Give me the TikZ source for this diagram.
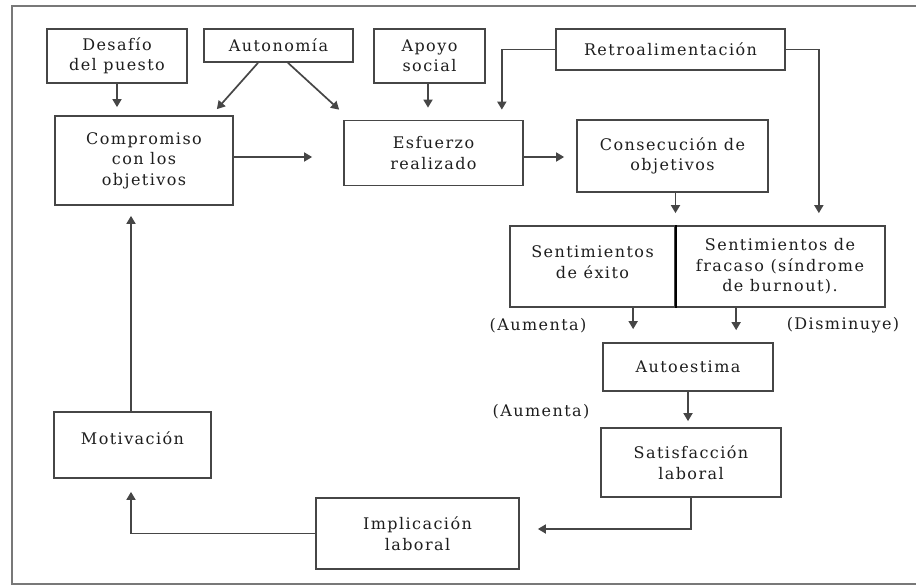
\documentclass[tikz,border=0pt]{standalone}
\usepackage{fontspec}
\setmainfont[LetterSpace=9]{DejaVu Serif}
\usetikzlibrary{arrows.meta,calc}
\definecolor{txt}{RGB}{30,30,30}
\definecolor{ln}{RGB}{70,70,70}
\definecolor{frm}{RGB}{120,120,120}
\tikzset{
  box/.style={draw=ln,line width=1.7pt,rectangle,align=center,inner sep=0pt,text=txt,
    font=\fontsize{16}{20.5}\selectfont},
  lbl/.style={inner sep=0pt,text=txt,font=\fontsize{16}{20.5}\selectfont},
  arr/.style={draw=ln,line width=1.7pt,-{Triangle[length=8pt,width=9pt]}},
}
\begin{document}
\begin{tikzpicture}[x=1pt,y=-1pt]
\useasboundingbox (0,0) rectangle (916,586);
\fill[white] (0,0) rectangle (916,586);
\draw[frm,line width=1.5pt] (916,6) -- (12,6) -- (12,584) -- (916,584);

\node[box,minimum width=140pt,minimum height=54pt] (desafio) at (117,56) {Desafío\\del puesto};
\node[box,minimum width=149pt,minimum height=33pt] (auto) at (278.5,45.5) {Autonomía};
\node[box,minimum width=111pt,minimum height=54pt] (apoyo) at (429.5,56) {Apoyo\\social};
\node[box,minimum width=229pt,minimum height=41pt] (retro) at (670.5,49.5) {Retroalimentación};
\node[box,minimum width=178pt,minimum height=89pt] (comp) at (144,160.5) {Compromiso\\con los\\objetivos};
\node[box,minimum width=179pt,minimum height=65pt] (esf) at (433.5,153) {Esfuerzo\\realizado};
\node[box,minimum width=191pt,minimum height=72pt] (cons) at (672.5,156) {Consecución de\\objetivos};
\node[box,minimum width=165pt,minimum height=81pt] (exito) at (592.5,266.5) {Sentimientos\\de éxito\\[-11.5pt]};
\node[box,minimum width=210pt,minimum height=81pt] (fracaso) at (780,266.5) {Sentimientos de\\fracaso (síndrome\\de burnout).};
\draw[black,line width=2.4pt] (exito.north east) -- (exito.south east);
\node[box,minimum width=170pt,minimum height=48pt] (autoe) at (688,367) {Autoestima};
\node[box,minimum width=180pt,minimum height=69pt] (satis) at (691,462.5) {Satisfacción\\laboral};
\node[box,minimum width=203pt,minimum height=71pt] (impl) at (417.5,533.5) {Implicación\\laboral};
\node[box,minimum width=157pt,minimum height=66pt] (motiv) at (132.5,445) {Motivación\\[-6.5pt]};

\node[lbl] (aum1) at (538,326) {(Aumenta)};
\node[lbl] (dism) at (843,325) {(Disminuye)};
\node[lbl] (aum2) at (541,412) {(Aumenta)};

\coordinate (rowy) at (0,157);

\draw[arr,shorten >=8pt] (desafio.south) -- (desafio.south |- comp.north);
\draw[arr] ([xshift=-20.5pt]auto.south) -- ($(comp.north east)+(-17,-6)$);
\draw[arr] ([xshift=9.5pt]auto.south) -- ($(esf.north west)+(-4,-10)$);
\draw[arr,shorten >=12pt] ([xshift=-1.5pt]apoyo.south) -- ([xshift=-1.5pt]apoyo.south |- esf.north);
\draw[arr] (retro.west) -| ($(esf.north east)+(-22,-10)$);
\draw[arr] (retro.east) -| ($(fracaso.north east)+(-67,-12)$);
\draw[arr] (comp.east |- rowy) -- ($(esf.west |- rowy)+(-31,0)$);
\draw[arr] (esf.east |- rowy) -- ($(cons.west |- rowy)+(-12,0)$);
\draw[arr,shorten >=12pt] ([xshift=3pt]cons.south) -- ([xshift=3pt]cons.south |- exito.north);
\coordinate (ax1) at ($(autoe.north west)+(31,0)$);
\coordinate (ax2) at ($(autoe.north west)+(134,0)$);
\draw[arr,shorten >=13pt] (exito.south -| ax1) -- (ax1);
\draw[arr,shorten >=12pt] (exito.south -| ax2) -- (ax2);
\draw[arr,shorten >=6pt] (autoe.south) -- (autoe.south |- satis.north);
\draw[arr] (satis.south) |- ($(impl.east)+(18,-4.5)$);
\draw[arr] (impl.west) -| ($(motiv.south)+(-1.5,13)$);
\draw[arr,shorten >=10pt] ([xshift=-1.5pt]motiv.north) -- ([xshift=-1.5pt]motiv.north |- comp.south);
\end{tikzpicture}
\end{document}
